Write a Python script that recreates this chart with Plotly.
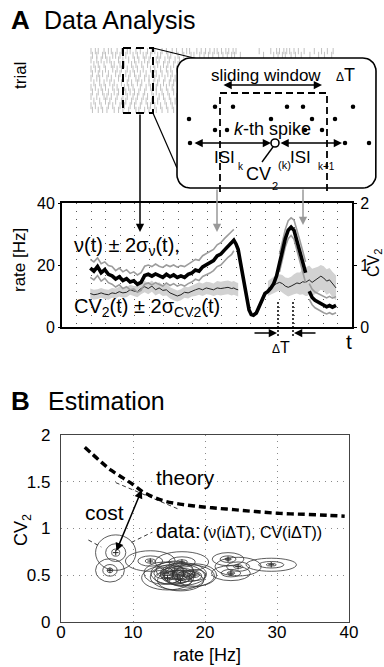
import numpy as np
import plotly.graph_objects as go

W, H = 384, 667
FONT = "Liberation Sans, Arial, sans-serif"

# ---------------- Panel A data (time in arbitrary units, 0..20) ----------------
time = [1.95, 2.2, 2.45, 2.7, 2.95, 3.2, 3.45, 3.7, 3.95, 4.2,
        4.45, 4.7, 4.95, 5.2, 5.45, 5.7, 5.95, 6.2, 6.45, 6.7,
        6.95, 7.2, 7.45, 7.7, 7.95, 8.2, 8.45, 8.7, 8.95, 9.2,
        9.45, 9.7, 9.95, 10.2, 10.45, 10.7, 10.95, 11.2, 11.45, 11.7,
        11.85, 12.0, 12.15, 12.3, 12.45, 12.6, 12.75, 12.9, 13.05, 13.2,
        13.4, 13.6, 13.8, 14.0, 14.2, 14.4, 14.6, 14.8, 15.0, 15.2,
        15.4, 15.6, 15.8, 16.0, 16.2, 16.4, 16.6, 16.8, 16.93, 17.05,
        17.25, 17.45, 17.65, 17.85, 18.05, 18.25, 18.45, 18.65, 18.9]

N = None
rate = [19.0, 18.0, 19.5, 17.5, 18.5, 17.0, 16.5, 15.5, 16.2, 15.0,
        15.6, 14.5, 14.9, 13.8, 14.4, 16.6, 17.0, 16.4, 17.1, 16.5,
        16.0, 17.0, 16.2, 16.8, 16.0, 16.5, 16.0, 17.0, 17.4, 18.4,
        18.0, 19.4, 20.0, 20.6, 21.4, 22.9, 23.5, 24.8, 26.0, 27.0,
        28.0, 26.8, 25.0, 21.0, 17.0, 12.5, 8.5, 5.5, 4.0, 3.8,
        4.5, 6.5, 9.0, 10.8, 11.5, 12.5, 14.0, 16.5, 20.5, 24.5,
        28.5, 31.2, 32.2, 31.2, 28.0, 24.5, 21.0, 17.5, N, 11.5,
        9.5, 8.6, 8.0, 7.6, 7.0, 6.5, 6.9, 6.4, 7.0]

rate_hi = [21.8, 21.0, 22.3, 20.4, 21.0, 19.8, 19.5, 18.2, 19.0, 17.8,
           18.5, 17.3, 17.8, 16.8, 17.5, 19.6, 20.0, 19.5, 20.3, 19.6,
           19.2, 20.0, 19.5, 20.0, 19.3, 19.8, 19.5, 20.4, 21.0, 21.8,
           21.5, 23.0, 23.6, 24.3, 25.0, 26.5, 27.2, 28.5, 29.8, 30.8,
           31.5, N, N, N, N, N, N, N, N, N,
           N, N, N, N, N, N, N, N, 23.5, 27.5,
           31.5, 34.3, 35.2, 34.5, 31.5, 28.0, 24.5, 21.0, N, 14.0,
           12.2, 11.3, 10.8, 10.3, 9.8, 9.4, 9.9, 9.3, 9.8]

rate_lo = [16.0, 15.2, 16.6, 14.8, 15.7, 14.3, 13.8, 12.9, 13.6, 12.4,
           13.0, 12.0, 12.3, 11.2, 11.8, 13.8, 14.2, 13.6, 14.3, 13.7,
           13.2, 14.2, 13.4, 14.0, 13.2, 13.7, 13.2, 14.0, 14.5, 15.4,
           15.0, 16.3, 16.8, 17.4, 18.2, 19.5, 20.0, 21.3, 22.5, 23.4,
           24.6, N, N, N, N, N, N, N, N, N,
           N, N, N, N, N, N, N, N, 17.8, 21.8,
           25.8, 28.5, 29.5, 28.3, 25.0, 21.3, 17.8, 14.3, N, 9.0,
           7.2, 6.2, 5.6, 5.2, 4.6, 4.2, 4.6, 4.1, 4.6]

cv = [0.54, 0.52, 0.53, 0.55, 0.53, 0.52, 0.55, 0.54, 0.57, 0.55,
      0.56, 0.60, 0.58, 0.57, 0.62, 0.65, 0.62, 0.66, 0.60, 0.63,
      0.59, 0.60, 0.55, 0.52, 0.50, 0.52, 0.56, 0.55, 0.58, 0.60,
      0.62, 0.60, 0.63, 0.62, 0.60, 0.63, 0.62, 0.63, 0.64, 0.62,
      0.63, 0.61, 0.60, N, N, N, N, N, N, N,
      N, N, N, N, 0.62, 0.65, 0.68, 0.70, 0.72, 0.70,
      0.66, 0.64, 0.66, 0.69, 0.71, 0.70, 0.73, 0.72, 0.74, 0.76,
      0.72, 0.75, 0.78, 0.82, 0.79, 0.74, 0.76, 0.70, 0.63]

cv_hi = [0.62, 0.60, 0.61, 0.63, 0.61, 0.60, 0.63, 0.62, 0.65, 0.63,
         0.64, 0.68, 0.66, 0.66, 0.71, 0.74, 0.71, 0.75, 0.69, 0.72,
         0.68, 0.69, 0.64, 0.61, 0.59, 0.61, 0.65, 0.64, 0.67, 0.70,
         0.72, 0.70, 0.73, 0.72, 0.70, 0.74, 0.73, 0.74, 0.75, 0.73,
         0.74, 0.72, 0.71, N, N, N, N, N, N, N,
         N, N, N, N, 0.74, 0.78, 0.81, 0.83, 0.85, 0.84,
         0.80, 0.79, 0.81, 0.85, 0.88, 0.88, 0.93, 0.96, 0.98, 0.99,
         0.94, 0.95, 0.97, 1.00, 0.98, 0.93, 0.95, 0.89, 0.83]

cv_lo = [0.46, 0.44, 0.45, 0.47, 0.45, 0.44, 0.47, 0.46, 0.49, 0.47,
         0.48, 0.52, 0.50, 0.48, 0.53, 0.56, 0.53, 0.57, 0.51, 0.54,
         0.50, 0.51, 0.46, 0.43, 0.41, 0.43, 0.47, 0.46, 0.49, 0.50,
         0.52, 0.50, 0.53, 0.52, 0.50, 0.52, 0.51, 0.52, 0.53, 0.51,
         0.52, 0.50, 0.49, N, N, N, N, N, N, N,
         N, N, N, N, 0.50, 0.52, 0.55, 0.57, 0.59, 0.56,
         0.52, 0.49, 0.51, 0.53, 0.54, 0.52, 0.53, 0.50, 0.50, 0.53,
         0.50, 0.53, 0.56, 0.60, 0.58, 0.52, 0.55, 0.48, 0.43]

rate_ticks = [0, 20, 40]
cv_ticks = [0, 1, 2]

# spike raster (trial rows, spike times on the same time axis)
spike_trains = [
    [2.0, 2.3, 2.5, 2.9, 3.2, 3.4, 3.8, 4.1, 4.5, 4.7, 5.1, 5.4, 5.9, 6.2, 6.4, 6.9, 7.2, 7.6, 7.9, 8.3,
     8.6, 8.8, 9.3, 9.6, 9.9, 10.2, 10.5, 10.7, 11.0, 11.3, 11.5, 11.8, 12.0, 13.6, 14.4, 14.8, 15.0,
     15.3, 15.5, 15.7, 16.0, 16.3, 16.7, 17.4, 17.9, 18.3, 18.7],
    [2.1, 2.4, 2.8, 3.0, 3.5, 3.7, 4.0, 4.4, 4.9, 5.2, 5.6, 5.8, 6.1, 6.6, 6.8, 7.3, 7.5, 8.0, 8.4, 8.9,
     9.1, 9.5, 9.8, 10.1, 10.4, 10.8, 11.1, 11.4, 11.7, 11.9, 12.3, 13.9, 14.6, 14.9, 15.2, 15.4, 15.8,
     16.1, 16.5, 17.1, 17.7, 18.1, 18.6],
    [2.0, 2.4, 2.7, 3.1, 3.3, 3.9, 4.2, 4.6, 5.0, 5.3, 5.7, 6.0, 6.5, 6.7, 7.1, 7.4, 7.8, 8.1],
    [2.2, 2.5, 2.9, 3.4, 3.6, 4.0, 4.3, 4.8, 5.1, 5.5, 5.9, 6.3, 6.6, 7.0, 7.3, 7.7, 8.0],
    [2.0, 2.3, 2.6, 3.0, 3.5, 3.8, 4.1, 4.5, 4.9, 5.2, 5.6, 6.1, 6.4, 6.8, 7.2, 7.5, 7.9],
    [2.1, 2.5, 2.8, 3.2, 3.7, 4.0, 4.4, 4.7, 5.0, 5.4, 5.8, 6.2, 6.5, 6.9, 7.3, 7.6, 8.1],
    [2.0, 2.4, 2.6, 3.1, 3.4, 3.9, 4.2, 4.6, 5.1, 5.3, 5.7, 6.0, 6.4, 6.7, 7.1, 7.5, 7.8],
    [2.2, 2.6, 2.9, 3.3, 3.6, 4.1, 4.5, 4.8, 5.2, 5.5, 6.0, 6.3, 6.6, 7.0, 7.4, 7.7, 8.2],
    [2.0, 2.3, 2.7, 3.0, 3.5, 3.8, 4.3, 4.6, 4.9, 5.4, 5.8, 6.1, 6.5, 6.8, 7.2, 7.6, 8.0],
    [2.1, 2.5, 2.8, 3.2, 3.6, 3.9, 4.4, 4.7, 5.0, 5.3, 5.7, 6.2, 6.5, 6.9, 7.3, 7.7, 8.1],
    [2.0, 2.4, 2.9, 3.1, 3.4, 3.8, 4.2, 4.5, 4.9, 5.2, 5.6, 5.9, 6.3, 6.7, 7.0, 7.4, 7.9],
    [2.2, 2.6, 3.0, 3.3, 3.7, 4.1, 4.4, 4.8, 5.1, 5.5, 5.8, 6.2, 6.6, 7.1, 7.5, 7.8, 8.2],
    [2.0, 2.3, 2.7, 3.2, 3.5, 4.0, 4.3, 4.7, 5.0, 5.4, 5.9, 6.1, 6.4, 6.8, 7.2, 7.6, 8.0],
    [2.1, 2.5, 2.8, 3.1, 3.6, 3.9, 4.2, 4.6, 5.1, 5.3, 5.7, 6.0, 6.5, 6.9, 7.3, 7.7, 8.1],
]

# ---------------- Panel B data ----------------
theory_rate = [3.3, 5.3, 7.0, 8.6, 10.0, 11.4, 13.0, 14.5, 16.5, 18.5, 21.0, 24.0, 27.0, 30.4, 34.0, 37.0, 39.4]
theory_cv = [1.87, 1.73, 1.62, 1.54, 1.47, 1.39, 1.33, 1.29, 1.26, 1.24, 1.22, 1.20, 1.18, 1.16, 1.15, 1.14, 1.13]

tangent_rate = [7.6, 16.2]
tangent_cv = [1.49, 1.21]

data_rate = [7.6, 6.8, 12.4, 16.8, 14.3, 14.8, 15.5, 16.2, 17.0, 17.8, 18.6, 15.8, 16.6, 23.2, 24.6, 23.6, 29.2]
data_cv = [0.74, 0.55, 0.65, 0.64, 0.52, 0.47, 0.52, 0.48, 0.51, 0.49, 0.50, 0.55, 0.44, 0.67, 0.59, 0.52, 0.61]
data_sd_rate = [2.8, 2.0, 3.45, 3.7, 2.8, 3.6, 3.0, 3.8, 3.2, 3.5, 3.0, 2.6, 3.2, 2.2, 3.2, 2.7, 3.5]
data_sd_cv = [0.19, 0.125, 0.11, 0.11, 0.12, 0.13, 0.12, 0.14, 0.12, 0.12, 0.12, 0.10, 0.11, 0.07, 0.10, 0.08, 0.07]
ring_scales = [1.0, 0.5, 0.2]

cost_from = (7.6, 0.74)
cost_to = (11.2, 1.41)
data_pointer_left = ([3.8, 5.6], [0.875, 0.80])
data_pointer_right = ([9.8, 12.7], [0.85, 0.96])

# ---------------- schematic geometry (page pixels) ----------------
inset_box = (177, 58, 376, 188, 13)
raster_box = (123, 48, 153, 113)
window_box = (220, 93, 327, 192)
inset_rows_y = [106.7, 119, 130, 143]
inset_rows_x = [[215, 233, 287, 303, 353],
                [189, 271, 312, 335],
                [215, 227, 305, 322],
                [190, 345, 369]]
kth_spike = (275, 143)

fig = go.Figure()


def segments(t, lo, hi):
    out, cur = [], []
    for ti, l, h in zip(t, lo, hi):
        if l is None or h is None:
            if cur:
                out.append(cur)
            cur = []
        else:
            cur.append((ti, l, h))
    if cur:
        out.append(cur)
    return out


# CV2 band + line (main y axis, right side)
for seg in segments(time, cv_lo, cv_hi):
    ts = [s[0] for s in seg]
    lo = [s[1] for s in seg]
    hi = [s[2] for s in seg]
    fig.add_trace(go.Scatter(x=ts + ts[::-1], y=hi + lo[::-1], fill="toself", fillcolor="#d2d2d2",
                             mode="lines", line=dict(width=0), xaxis="x", yaxis="y", hoverinfo="skip"))
fig.add_trace(go.Scatter(x=time, y=cv, mode="lines", line=dict(color="#222", width=1),
                         xaxis="x", yaxis="y", connectgaps=False))

# rate (overlaying axis, left side)
for arr in (rate_hi, rate_lo):
    fig.add_trace(go.Scatter(x=time, y=arr, mode="lines", line=dict(color="#9c9c9c", width=1.6),
                             xaxis="x", yaxis="y2", connectgaps=False))
fig.add_trace(go.Scatter(x=time, y=rate, mode="lines", line=dict(color="black", width=3.6),
                         xaxis="x", yaxis="y2", connectgaps=False))

# Panel B
fig.add_trace(go.Scatter(x=theory_rate, y=theory_cv, mode="lines",
                         line=dict(color="black", width=3.4, dash="7px,4px", shape="spline"),
                         xaxis="x2", yaxis="y3"))
fig.add_trace(go.Scatter(x=tangent_rate, y=tangent_cv, mode="lines",
                         line=dict(color="black", width=0.8, dash="4px,3px"), xaxis="x2", yaxis="y3"))
for px_, py_ in (data_pointer_left, data_pointer_right):
    fig.add_trace(go.Scatter(x=px_, y=py_, mode="lines",
                             line=dict(color="black", width=0.8, dash="4px,3px"), xaxis="x2", yaxis="y3"))
fig.add_trace(go.Scatter(x=data_rate, y=data_cv, mode="markers",
                         marker=dict(symbol="cross-thin", size=4, line=dict(width=1, color="#222")),
                         xaxis="x2", yaxis="y3"))

shapes = []
for r0, c0, sr, sc in zip(data_rate, data_cv, data_sd_rate, data_sd_cv):
    for k in ring_scales:
        shapes.append(dict(type="circle", xref="x2", yref="y3",
                           x0=r0 - k * sr, x1=r0 + k * sr, y0=c0 - k * sc, y1=c0 + k * sc,
                           line=dict(color="#333", width=0.8), layer="above"))

# Raster
for i, row in enumerate(spike_trains):
    fig.add_trace(go.Scatter(x=row, y=[i + 1] * len(row), mode="markers",
                             marker=dict(symbol="line-ns", size=5, line=dict(width=1, color="#c2c2c2")),
                             xaxis="x3", yaxis="y4"))

# ---------------- schematic overlay (page pixel coords) ----------------
O = dict(xaxis="x4", yaxis="y5", hoverinfo="skip")
# connectors from raster window to inset
fig.add_trace(go.Scatter(x=[153, 198], y=[48, 59], mode="lines", line=dict(color="black", width=1.2), **O))
fig.add_trace(go.Scatter(x=[153, 177], y=[113, 168], mode="lines", line=dict(color="black", width=1.2), **O))
rx0, ry0, rx1, ry1 = raster_box
fig.add_trace(go.Scatter(x=[rx0, rx1, rx1, rx0, rx0], y=[ry0, ry0, ry1, ry1, ry0], mode="lines",
                         line=dict(color="black", width=2, dash="8px,5px"), **O))

# inset rounded box
bx0, by0, bx1, by1, br = inset_box
pts = []
for cx, cy, a0, a1 in [(bx1 - br, by0 + br, -90, 0), (bx1 - br, by1 - br, 0, 90),
                       (bx0 + br, by1 - br, 90, 180), (bx0 + br, by0 + br, 180, 270)]:
    for a in np.linspace(np.radians(a0), np.radians(a1), 10):
        pts.append((cx + br * np.cos(a), cy + br * np.sin(a)))
pts.append(pts[0])
fig.add_trace(go.Scatter(x=[p[0] for p in pts], y=[p[1] for p in pts], fill="toself", fillcolor="white",
                         mode="lines", line=dict(color="black", width=1.6), **O))
wx0, wy0, wx1, wy1 = window_box
fig.add_trace(go.Scatter(x=[wx0, wx0, wx1, wx1], y=[wy1, wy0, wy0, wy1], mode="lines",
                         line=dict(color="black", width=1.8, dash="7px,4px"), **O))
for yy, xs in zip(inset_rows_y, inset_rows_x):
    fig.add_trace(go.Scatter(x=xs, y=[yy] * len(xs), mode="markers",
                             marker=dict(color="black", size=4.5), **O))
fig.add_trace(go.Scatter(x=[273, 262], y=[147, 162], mode="lines", line=dict(color="black", width=1.4), **O))
fig.add_trace(go.Scatter(x=[kth_spike[0]], y=[kth_spike[1]], mode="markers",
                         marker=dict(symbol="circle", size=8, color="white", line=dict(color="black", width=1.6)), **O))
# Delta T dotted markers
for xx in (278, 293):
    fig.add_trace(go.Scatter(x=[xx, xx], y=[302, 337], mode="lines",
                             line=dict(color="black", width=1.5, dash="2px,2px"), **O))

fig.update_traces(showlegend=False)


def arrow(x0, y0, x1, y1, color="black", width=1.5, both=False, ref=("x4", "y5"), size=1.1):
    return dict(x=x1, y=y1, ax=x0, ay=y0, xref=ref[0], yref=ref[1], axref=ref[0], ayref=ref[1],
                text="", showarrow=True, arrowhead=2, arrowsize=size, arrowwidth=width, arrowcolor=color,
                arrowside="end+start" if both else "end", startarrowhead=2, startarrowsize=size)


def label(x, y, text, size, xanchor="center", yanchor="middle", angle=0, ref=("x4", "y5"), color="black"):
    return dict(x=x, y=y, xref=ref[0], yref=ref[1], text=text, showarrow=False,
                font=dict(size=size, family=FONT, color=color), xanchor=xanchor, yanchor=yanchor,
                textangle=angle)


annotations = [
    arrow(140, 113, 140, 232),
    arrow(217, 188, 217, 232, color="#999999"),
    arrow(303, 188, 303, 225, color="#999999"),
    arrow(222, 85, 322, 85, both=True),
    arrow(193, 143, 271, 143, both=True),
    arrow(279, 143, 342, 143, both=True),
    arrow(253, 333, 277, 333),
    arrow(317, 333, 294, 333),
    arrow(cost_from[0], cost_from[1], cost_to[0], cost_to[1], both=True, ref=("x2", "y3"), width=1.5),
    # headers
    label(9, 20, "<b>A</b>", 26, xanchor="left"),
    label(42, 20, "Data Analysis", 25, xanchor="left"),
    label(9, 401, "<b>B</b>", 26, xanchor="left"),
    label(46, 401, "Estimation", 25, xanchor="left"),
    # panel A labels
    label(20, 76, "trial", 17, angle=-90),
    label(19, 260, "rate [Hz]", 17, angle=-90),
    label(374, 263, "CV<sub>2</sub>", 16, angle=-90),
    label(349, 341, "t", 21),
    label(72, 246, "ν(t) ± 2σ<sub>ν</sub>(t),", 20, xanchor="left"),
    label(72, 307, "CV<sub>2</sub>(t) ± 2σ<sub>CV2</sub>(t)", 20, xanchor="left"),
    label(281, 347, "<span style='font-size:12px'>Δ</span>T", 16),
    # inset labels
    label(266, 75, "sliding window", 17),
    label(345, 75, "<span style='font-size:12px'>Δ</span>T", 18),
    label(272, 129, "<i>k</i>-th spike", 18),
    label(224, 157, "ISI", 17),
    label(241, 166, "k", 10),
    label(300, 157, "ISI", 17),
    label(326, 166, "k+1", 10),
    label(258, 174, "CV", 18),
    label(275, 186, "2", 11),
    label(284, 165, "(k)", 11),
    # panel B labels
    label(22, 530, "CV<sub>2</sub>", 18, angle=-90),
    label(207, 655, "rate [Hz]", 18),
    label(12.9, 1.55, "theory", 21, xanchor="left", ref=("x2", "y3")),
    label(6.1, 1.17, "cost", 21, ref=("x2", "y3")),
    label(12.9, 0.97, "data:", 20, xanchor="left", ref=("x2", "y3")),
    label(19.4, 0.955, "(ν(iΔT), CV(iΔT))", 16, xanchor="left", ref=("x2", "y3")),
]

axis_common = dict(zeroline=False, showgrid=False, automargin=False)
fig.update_layout(
    width=W, height=H, margin=dict(l=0, r=0, t=0, b=0, pad=0, autoexpand=False),
    paper_bgcolor="white", plot_bgcolor="rgba(0,0,0,0)",
    showlegend=False, font=dict(family=FONT, color="black"),
    xaxis=dict(domain=[62 / W, 352 / W], range=[0, 20], anchor="y", showgrid=True, dtick=1, tick0=0,
               gridcolor="#5a5a5a", griddash="1px,7px", gridwidth=1, showticklabels=False, ticks="",
               showline=True, mirror=True, linecolor="black", linewidth=2, zeroline=False, automargin=False),
    yaxis=dict(domain=[1 - 327 / H, 1 - 203 / H], range=[0, 2], anchor="x", side="right",
               tickvals=cv_ticks, ticks="outside", ticklen=3, tickcolor="black",
               tickfont=dict(size=16), showline=True, mirror=True, linecolor="black", linewidth=2,
               **axis_common),
    yaxis2=dict(overlaying="y", side="left", anchor="x", range=[0, 40], tickvals=rate_ticks,
                ticks="outside", ticklen=3, tickcolor="black", tickfont=dict(size=16),
                showline=False, **axis_common),
    xaxis2=dict(domain=[61 / W, 349 / W], range=[0, 40], anchor="y3", dtick=10, tick0=0,
                showgrid=True, gridcolor="#8a8a8a", griddash="1px,5px", gridwidth=1, zeroline=False,
                showline=True, mirror=True, linecolor="#444", linewidth=1.2, ticks="",
                tickfont=dict(size=17), ticklabelstandoff=-5, automargin=False),
    yaxis3=dict(domain=[1 - 621.7 / H, 1 - 435 / H], range=[0, 2], anchor="x2", dtick=0.5, tick0=0,
                showgrid=True, gridcolor="#8a8a8a", griddash="1px,5px", gridwidth=1, zeroline=False,
                showline=True, mirror=True, linecolor="#444", linewidth=1.2, ticks="",
                tickfont=dict(size=17), ticklabelstandoff=6, automargin=False),
    xaxis3=dict(domain=[62 / W, 352 / W], range=[0, 20], anchor="y4", visible=False, automargin=False),
    yaxis4=dict(domain=[1 - 113 / H, 1 - 48 / H], range=[14.6, 0.4], anchor="x3", visible=False, automargin=False),
    xaxis4=dict(domain=[0, 1], range=[0, W], anchor="y5", visible=False, automargin=False),
    yaxis5=dict(domain=[0, 1], range=[H, 0], anchor="x4", visible=False, automargin=False),
    shapes=shapes,
    annotations=annotations,
)

fig.write_html("out.html")
